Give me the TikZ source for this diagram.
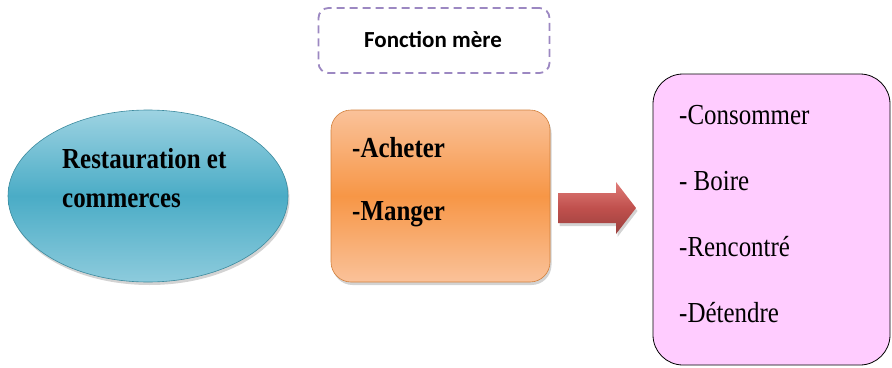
\documentclass[tikz,border=0pt]{standalone}
\usepackage{fontspec}
\usetikzlibrary{shapes.geometric,shadows}
\newfontfamily\srf[FakeStretch=0.86]{Liberation Serif}
\newfontfamily\calfont{Carlito}
\definecolor{tealA}{HTML}{9ED3E2}
\definecolor{tealB}{HTML}{4AACC6}
\definecolor{oraA}{HTML}{FAC29A}
\definecolor{oraB}{HTML}{F79646}
\definecolor{redA}{HTML}{E07C78}
\definecolor{redB}{HTML}{C0504D}
\definecolor{pinkF}{HTML}{FFCCFF}
\definecolor{dashC}{HTML}{9C88C2}
\tikzset{
  softshadow/.style={drop shadow={opacity=0.35,shadow xshift=1.5pt,shadow yshift=-3pt}},
  ellbox/.style={ellipse,draw=tealB!80!black,line width=0.6pt,minimum width=280pt,minimum height=172pt,
    top color=tealA,bottom color=tealA!80!tealB,middle color=tealB,softshadow},
  orabox/.style={rectangle,rounded corners=20pt,draw=oraB!85!black,line width=0.6pt,minimum width=219pt,minimum height=172pt,
    top color=oraA,bottom color=oraA,middle color=oraB,softshadow},
  pinkbox/.style={rectangle,rounded corners=30pt,draw=black,line width=0.8pt,fill=pinkF,minimum width=237pt,minimum height=291pt},
  dashbox/.style={rectangle,rounded corners=10pt,draw=dashC,line width=1.8pt,dash pattern=on 8pt off 5pt,minimum width=231pt,minimum height=65pt},
  bigtxt/.style={font=\srf\fontsize{29}{38}\selectfont,inner sep=0pt,anchor=base west},
  arrowshape/.style={top color=redA,bottom color=redB!80!black,middle color=redB,softshadow}
}
\begin{document}
\begin{tikzpicture}[x=1pt,y=-1pt]
\useasboundingbox (0,0) rectangle (892,367);
\node[ellbox] (ell) at (148,196) {};
\node[align=left,inner sep=0pt,anchor=north west,font=\srf\bfseries\fontsize{29}{39}\selectfont] (rtext) at (62,148) {Restauration et\\commerces};
\node[dashbox] (dash) at (434,40.5) {};
\node[font=\calfont\bfseries\fontsize{23}{27}\selectfont,inner sep=0pt,anchor=base] (fm) at (433,47) {Fonction mère};
\node[orabox] (ora) at (440.5,196) {};
\node[bigtxt,font=\srf\bfseries\fontsize{29}{38}\selectfont] (ach) at (352,157) {-Acheter};
\node[bigtxt,font=\srf\bfseries\fontsize{29}{38}\selectfont] (man) at (352,220) {-Manger};
\path[arrowshape] (558,193) -- (616,193) -- (616,182) -- (636,208) -- (616,234) -- (616,223) -- (558,223) -- cycle;
\node[pinkbox] (pink) at (771.5,219.5) {};
\node[bigtxt] (t1) at (679,124) {-Consommer};
\node[bigtxt] (t2) at (679,190) {- Boire};
\node[bigtxt] (t3) at (679,256) {-Rencontré};
\node[bigtxt] (t4) at (679,322) {-Détendre};
\end{tikzpicture}
\end{document}
